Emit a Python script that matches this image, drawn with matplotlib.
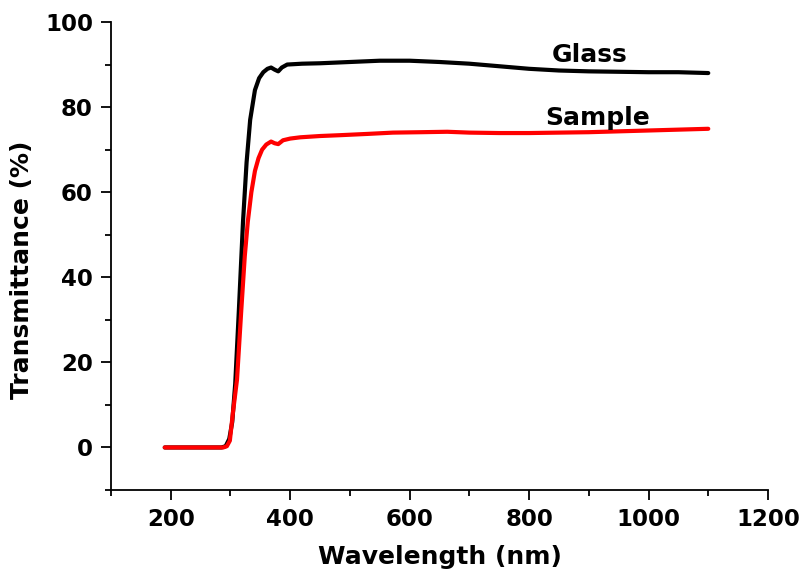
import matplotlib
matplotlib.use("Agg")
import matplotlib.pyplot as plt
from matplotlib.ticker import MultipleLocator

glass_wl = [190, 250, 285, 292, 298, 303, 308, 314, 321, 327, 333, 341, 348, 355, 362, 368,
            374, 380, 386, 395, 420, 450, 500, 550, 600, 650, 700, 750, 800, 850, 900, 950,
            1000, 1050, 1100]
glass_t = [0, 0, 0, 0.3, 2, 6, 15, 32, 53, 67, 77, 84, 86.8, 88.2, 89.0, 89.3,
           88.8, 88.4, 89.3, 90.0, 90.2, 90.3, 90.6, 90.9, 90.9, 90.6, 90.2, 89.6, 89.0, 88.6, 88.4, 88.3,
           88.2, 88.2, 88.0]

sample_wl = [190, 250, 288, 294, 299, 304, 311, 318, 324, 329, 335, 341, 347, 353, 360, 368,
             374, 380, 388, 400, 417, 450, 484, 530, 572, 620, 663, 700, 750, 800, 850, 900,
             950, 1000, 1050, 1100]
sample_t = [0, 0, 0, 0.3, 1.6, 8, 16, 32, 45, 53, 60, 65, 68, 70, 71.2, 71.9,
            71.5, 71.3, 72.2, 72.6, 72.9, 73.2, 73.4, 73.7, 74.0, 74.1, 74.2, 74.0, 73.9, 73.9, 74.0, 74.1,
            74.3, 74.5, 74.7, 74.9]

xticks = [200, 400, 600, 800, 1000, 1200]
yticks = [0, 20, 40, 60, 80, 100]

plt.rcParams['font.family'] = ['DejaVu Sans']
plt.rcParams['font.weight'] = 'bold'

fig = plt.figure(figsize=(8.01, 5.71), dpi=100)
ax = fig.add_axes([111/801, 1-490/571, (768-111)/801, (490-22)/571])

ax.plot(glass_wl, glass_t, color='black', lw=3.0, solid_capstyle='round')
ax.plot(sample_wl, sample_t, color='#ff0000', lw=3.0, solid_capstyle='round')

ax.set_xlim(100, 1200)
ax.set_ylim(-10, 100)
ax.set_xticks(xticks)
ax.set_yticks(yticks)
ax.xaxis.set_minor_locator(MultipleLocator(100))
ax.yaxis.set_minor_locator(MultipleLocator(10))

for s in ['top', 'right']:
    ax.spines[s].set_visible(False)
for s in ['left', 'bottom']:
    ax.spines[s].set_linewidth(1.3)

ax.tick_params(which='major', direction='out', length=7, width=1.3, labelsize=16.5, pad=6)
ax.tick_params(which='minor', direction='out', length=4, width=1.3)
for lab in ax.get_xticklabels() + ax.get_yticklabels():
    lab.set_fontweight('bold')

ax.set_xlabel('Wavelength (nm)', fontsize=18, fontweight='bold', labelpad=10)
ax.set_ylabel('Transmittance (%)', fontsize=18, fontweight='bold')
ax.yaxis.set_label_coords(-0.117, 0.47)

ax.text(902, 90.6, 'Glass', fontsize=18, fontweight='bold', ha='center', va='baseline')
ax.text(915, 75.8, 'Sample', fontsize=18, fontweight='bold', ha='center', va='baseline')

fig.savefig('out.png', dpi=100)
